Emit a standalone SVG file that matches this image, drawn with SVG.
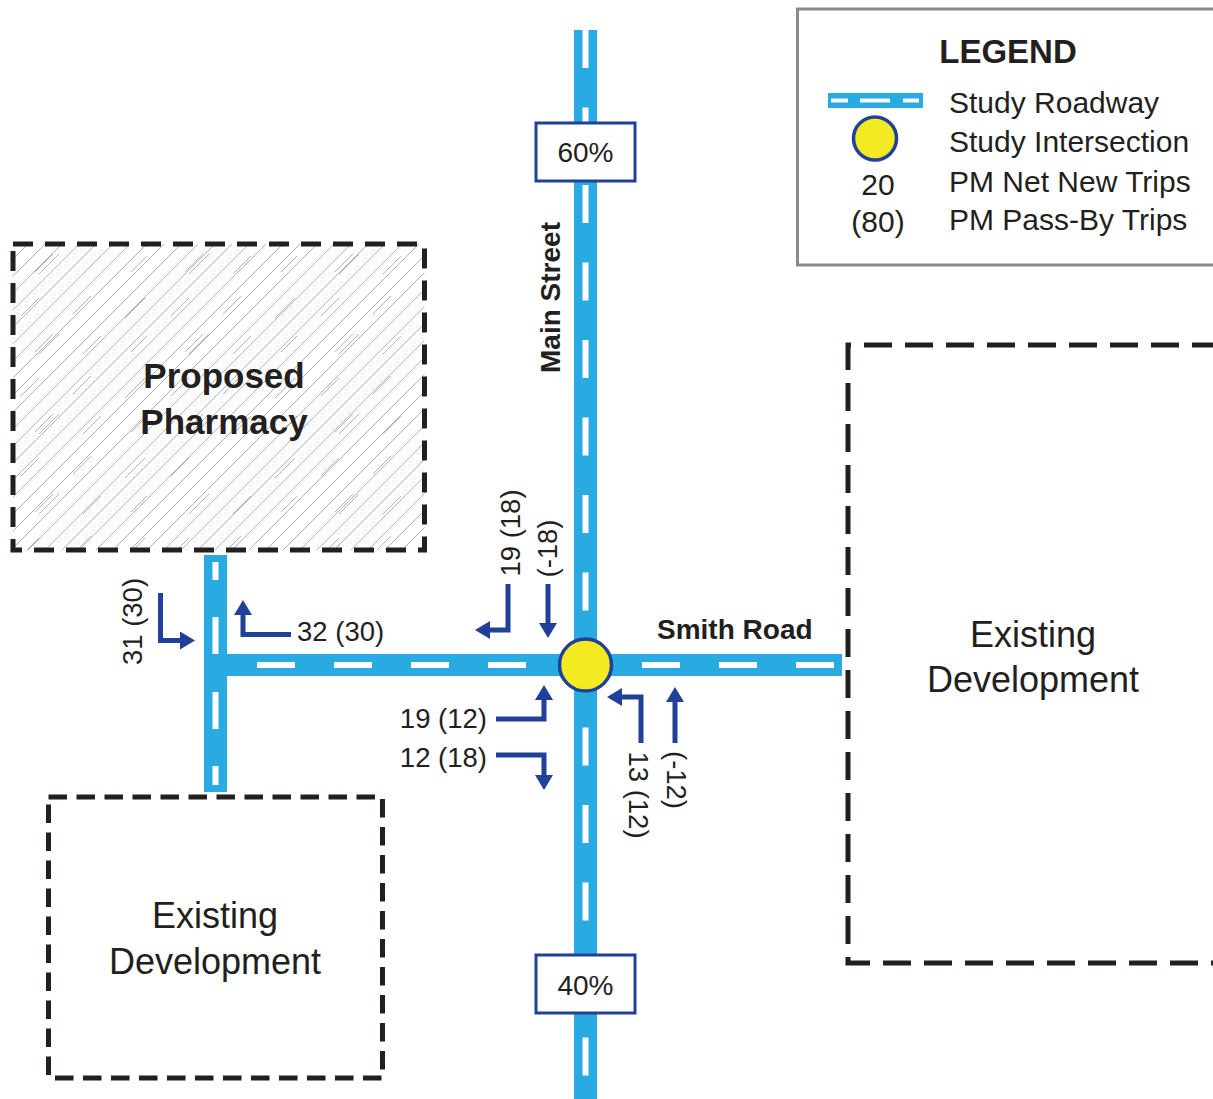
<svg xmlns="http://www.w3.org/2000/svg" width="1213" height="1099" viewBox="0 0 1213 1099">
<style>
.t{font-family:"Liberation Sans",Arial,sans-serif;fill:#231f20}
.b{font-weight:bold}
.lab{font-size:27.5px}
.leg{font-size:30px}
.road{fill:#29abe2}
.dash{stroke:#fff;stroke-width:6;fill:none}
.box{fill:none;stroke:#231f20;stroke-width:5}
.arr{fill:none;stroke:#21409a;stroke-width:5;stroke-linejoin:miter;marker-end:url(#ah)}
.pct{fill:#fff;stroke:#21409a;stroke-width:3}
.isec{fill:#f4ea22;stroke:#21409a;stroke-width:3.5}
</style>
<defs>
<marker id="ah" markerUnits="userSpaceOnUse" markerWidth="16" markerHeight="20" refX="1" refY="9" orient="auto">
<path d="M0,0 L15,9 L0,18 z" fill="#21409a"/>
</marker>
<pattern id="hatch" patternUnits="userSpaceOnUse" width="17" height="17">
<path d="M-2,2 L2,-2 M0,17 L17,0 M15,19 L19,15" stroke="#acacac" stroke-width="0.9"/>
</pattern>
<pattern id="hatch2" patternUnits="userSpaceOnUse" width="150" height="80" x="13" y="244">
<path d="M22,28 L40,10 M26,30 L46,10 M70,30 L88,12 M118,28 L134,12 M60,70 L78,52 M112,74 L132,54 M8,72 L26,54" stroke="#acacac" stroke-width="0.9"/>
</pattern>
</defs>

<g id="roads">
<rect class="road" x="574" y="30" width="23" height="1069"/>
<line class="dash" x1="585.5" y1="30" x2="585.5" y2="1099" stroke-dasharray="38 39.5"/>
<rect class="road" x="204" y="654" width="638" height="22"/>
<line class="dash" x1="257" y1="665" x2="836" y2="665" stroke-dasharray="38 39"/>
<rect class="road" x="204" y="555" width="23" height="237"/>
<path class="dash" d="M215.5,562 V580 M215.5,617 V654 M215.5,692 V729 M215.5,766 V785"/>
</g>

<g id="proposed-pharmacy">
<rect x="13" y="244" width="411.5" height="306" fill="#fff"/>
<rect x="13" y="244" width="411.5" height="306" fill="url(#hatch)"/>
<rect x="13" y="244" width="411.5" height="306" fill="url(#hatch2)"/>
<rect class="box" x="13" y="244" width="411.5" height="306" stroke-dasharray="20 12"/>
<text class="t b" x="224" y="388" font-size="35" text-anchor="middle">Proposed</text>
<text class="t b" x="224" y="434" font-size="35" text-anchor="middle">Pharmacy</text>
</g>

<g id="existing-development-sw">
<rect class="box" x="48.5" y="797" width="334" height="281" stroke-dasharray="18.5 9.5"/>
<text class="t" x="215" y="928" font-size="36" text-anchor="middle">Existing</text>
<text class="t" x="215" y="974" font-size="36" text-anchor="middle">Development</text>
</g>

<g id="existing-development-e">
<path class="box" d="M1220,345 H848 V963 H1220" stroke-dasharray="28 13"/>
<text class="t" x="1033" y="647" font-size="36" text-anchor="middle">Existing</text>
<text class="t" x="1033" y="692" font-size="36" text-anchor="middle">Development</text>
</g>

<g id="legend">
<rect x="797.5" y="9" width="430" height="256" fill="#fff" stroke="#8a8a8a" stroke-width="3"/>
<text class="t b" x="1008" y="63" font-size="33" text-anchor="middle">LEGEND</text>
<rect class="road" x="828" y="93" width="95" height="15"/>
<path d="M831,100.5 H848 M860,100.5 H890 M903,100.5 H919" stroke="#fff" stroke-width="4"/>
<circle class="isec" cx="875" cy="138.5" r="21.5"/>
<text class="t leg" x="878" y="195" text-anchor="middle">20</text>
<text class="t leg" x="878" y="232" text-anchor="middle">(80)</text>
<text class="t leg" x="949" y="113">Study Roadway</text>
<text class="t leg" x="949" y="152">Study Intersection</text>
<text class="t leg" x="949" y="192">PM Net New Trips</text>
<text class="t leg" x="949" y="230">PM Pass-By Trips</text>
</g>

<g id="pct-60">
<rect class="pct" x="536" y="123" width="99" height="58"/>
<text class="t" x="585.5" y="162" font-size="28" text-anchor="middle">60%</text>
</g>
<g id="pct-40">
<rect class="pct" x="536" y="955" width="99" height="58"/>
<text class="t" x="585.5" y="995" font-size="28" text-anchor="middle">40%</text>
</g>

<g id="intersection">
<circle class="isec" cx="585.5" cy="665" r="26"/>
</g>

<g id="street-labels">
<text class="t b" transform="translate(560,297.5) rotate(-90)" font-size="28" text-anchor="middle">Main Street</text>
<text class="t b" x="657" y="639" font-size="28">Smith Road</text>
</g>

<g id="connectors">
<path class="arr" d="M160.5,593 V640.5 H181"/>
<path class="arr" d="M291,634.5 H243 V614"/>
<path class="arr" d="M508,584 V630 H489"/>
<path class="arr" d="M548,584 V624"/>
<path class="arr" d="M496,719 H544 V699"/>
<path class="arr" d="M496,755 H544 V776"/>
<path class="arr" d="M641,743 V697 H621"/>
<path class="arr" d="M675,743 V701"/>
</g>

<g id="volume-labels">
<text class="t lab" transform="translate(142,621.5) rotate(-90)" text-anchor="middle">31 (30)</text>
<text class="t lab" x="297" y="641">32 (30)</text>
<text class="t lab" transform="translate(520,533) rotate(-90)" text-anchor="middle">19 (18)</text>
<text class="t lab" transform="translate(557,548.5) rotate(-90)" text-anchor="middle">(-18)</text>
<text class="t lab" x="487" y="728" text-anchor="end">19 (12)</text>
<text class="t lab" x="487" y="767" text-anchor="end">12 (18)</text>
<text class="t lab" transform="translate(629,795) rotate(90)" text-anchor="middle">13 (12)</text>
<text class="t lab" transform="translate(667,780) rotate(90)" text-anchor="middle">(-12)</text>
</g>
</svg>
